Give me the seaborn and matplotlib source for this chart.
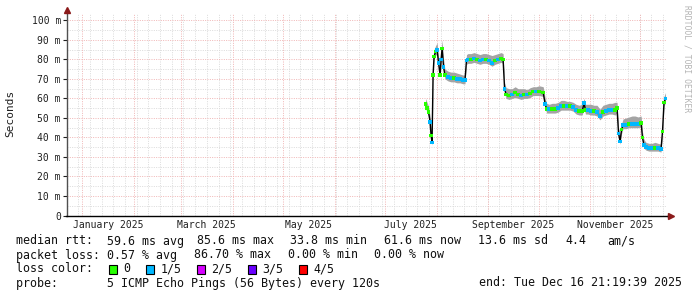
import numpy as np
import pandas as pd
import matplotlib
matplotlib.use("Agg")
import matplotlib.pyplot as plt
from matplotlib.patches import Rectangle
import seaborn as sns

# ---------------- data ----------------
day_offset = [  # days after 2025-01-01
    205.4, 206.3, 207.2, 208.1, 208.7, 209.3, 209.9, 210.5, 211.4, 212.3,
    213.2, 214.1, 214.7, 215.3, 216.2, 217.0, 218.8, 220.6, 222.4, 224.2,
    226.0, 227.8, 229.0, 229.9, 230.8, 232.6, 234.4, 236.2, 238.0, 239.8,
    241.6, 243.4, 245.2, 247.0, 248.8, 250.6, 251.8, 252.7, 253.6, 255.4,
    257.2, 259.0, 260.8, 262.6, 264.4, 266.2, 268.0, 269.8, 271.6, 273.4,
    275.8, 277.0, 277.9, 279.4, 281.2, 283.0, 284.8, 286.5, 288.3, 290.1,
    291.9, 293.7, 295.5, 297.3, 299.1, 300.3, 301.1, 302.6, 304.4, 306.2,
    308.0, 309.8, 311.6, 313.4, 315.2, 317.0, 318.8, 320.0, 320.9, 321.8,
    322.7, 323.6, 325.4, 327.2, 329.0, 330.8, 332.6, 334.4, 335.2, 336.1,
    337.3, 339.1, 340.9, 342.7, 344.5, 346.3, 347.2, 348.1, 349.0,
]
median_ms = [
    57, 55, 53, 48, 41, 37.5, 72, 81.5, 84, 85,
    78, 72, 80, 85.6, 76, 72, 71, 70.5, 70.5, 70,
    70, 69.5, 69.5, 79.5, 80, 80, 80.5, 80, 79.5, 80,
    80, 79.5, 78, 79.5, 80, 80.5, 80, 65, 62, 61.5,
    62, 63, 62, 61.5, 62, 62, 62.5, 63.5, 63.5, 63.5,
    63, 57, 54.5, 54.5, 54.5, 54.5, 55, 56, 56, 56,
    56, 55.5, 54, 53.5, 53.5, 57.5, 54, 54, 53.5, 53.5,
    53, 51, 53, 53.5, 54, 54, 54, 55, 42, 38,
    44, 46.5, 46.5, 47, 47, 47, 47, 47.5, 40, 36,
    35, 34.5, 34.5, 34.5, 34.5, 34, 43, 58, 60,
]
smoke_lo_ms = [
    55, 53, 51, 46, 39, 36, 69, 80, 82, 83,
    76, 71, 78, 84, 74, 70, 69, 68.5, 68.5, 68,
    68, 67.5, 67.5, 77.5, 78, 78, 78.5, 78, 77.5, 78,
    78, 77.5, 76.5, 77.5, 78, 78.5, 78, 63, 60, 59.5,
    60, 60.5, 60, 59.5, 60, 60, 60.5, 61.5, 61.5, 61.5,
    61, 55, 52.5, 52.5, 52.5, 52.5, 53, 54, 54, 54,
    54, 53.5, 52, 51.5, 51.5, 55, 52, 52, 51.5, 51.5,
    51, 49, 51, 51.5, 52, 52, 51.5, 52.5, 40, 36.5,
    42, 44.5, 44.5, 45, 45, 45, 45, 45.5, 38, 34.5,
    33.5, 33, 33, 33, 33, 32.5, 41, 56, 58,
]
smoke_hi_ms = [
    60, 58, 56, 51, 45, 41, 78, 85, 87, 88.5,
    81, 75, 84, 90, 80, 75, 74, 73.5, 73.5, 73,
    72.5, 72, 72, 82.5, 83, 83, 83.5, 83, 82.5, 83,
    83, 82.5, 82, 82.5, 83, 83.5, 83, 68, 65.5, 65,
    65, 66, 65, 65, 65, 64.5, 65.5, 66, 66, 66.5,
    66, 60, 57.5, 57, 57.5, 57.5, 58, 59, 59, 58.5,
    58.5, 58, 57, 56.5, 57, 60, 57, 57, 57, 56.5,
    56.5, 54.5, 56.5, 57, 57.5, 57.5, 58, 58, 45, 41.5,
    47, 49.5, 50, 50.5, 51, 51, 50.5, 51, 43, 39,
    37.5, 37, 37, 37.5, 37, 36.5, 46, 61, 63,
]
loss_bucket = [  # 0 = no loss, 1 = 1/5 lost
    0, 0, 0, 1, 0, 1, 0, 0, 0, 1,
    1, 0, 1, 0, 1, 0, 1, 1, 0, 1,
    1, 1, 1, 1, 1, 0, 1, 0, 1, 1,
    0, 1, 1, 0, 1, 0, 0, 1, 0, 0,
    1, 0, 0, 1, 0, 1, 0, 0, 1, 0,
    0, 1, 0, 1, 0, 0, 1, 1, 0, 1,
    0, 1, 1, 0, 0, 1, 0, 1, 1, 0,
    1, 1, 0, 1, 1, 1, 0, 0, 1, 1,
    0, 1, 1, 0, 1, 1, 1, 0, 0, 1,
    1, 1, 1, 0, 1, 1, 0, 0, 1,
]
loss_labels = ["0", "1/5", "2/5", "3/5", "4/5"]
loss_colors = ["#26ff00", "#00b8ff", "#d600ff", "#6a00ff", "#ff0000"]
y_ticks = [0, 10, 20, 30, 40, 50, 60, 70, 80, 90, 100]
x_label_months = ["2025-01-01", "2025-03-01", "2025-05-01",
                  "2025-07-01", "2025-09-01", "2025-11-01"]

rtt_items = ["median rtt:", "59.6 ms avg", "85.6 ms max", "33.8 ms min",
             "61.6 ms now", "13.6 ms sd", "4.4", "am/s"]
loss_items = ["packet loss:", "0.57 % avg", "86.70 % max", "0.00 % min", "0.00 % now"]
probe_text = "probe:       5 ICMP Echo Pings (56 Bytes) every 120s"
end_text = "end: Tue Dec 16 21:19:39 2025"

# ---------------- figure ----------------
sns.set_theme(style="white")
plt.rcParams["font.family"] = ["DejaVu Sans Mono", "DejaVu Sans"]

W, H = 697, 297
fig = plt.figure(figsize=(W / 100, H / 100), dpi=100)
fig.patch.set_facecolor("white")
x0, x1, yb, yt = 66.5, 667.0, 215.5, 13.0
ax = fig.add_axes([x0 / W, (H - yb) / H, (x1 - x0) / W, (yb - yt) / H])
ax.set_facecolor("white")

base = pd.Timestamp("2025-01-01")
t_end = pd.Timestamp("2025-12-16 21:19:39")
t_start = base - pd.Timedelta(days=9.46)

df = pd.DataFrame({
    "time": base + pd.to_timedelta(day_offset, unit="D"),
    "median": median_ms,
    "lo": smoke_lo_ms,
    "hi": smoke_hi_ms,
    "loss": [loss_labels[i] for i in loss_bucket],
})

ax.set_xlim(t_start, t_end)
ax.set_ylim(0, 103.8)

# grid (rrdtool style, drawn by hand)
dot = (0, (1, 1.4))
for t in pd.date_range(t_start, t_end, freq="W-SUN"):
    ax.axvline(t, color="#dadada", lw=0.7, ls=dot, zorder=0)
for v in np.arange(5, 104, 10):
    ax.axhline(v, color="#dadada", lw=0.7, ls=dot, zorder=0)
for t in pd.date_range(base, t_end, freq="MS"):
    ax.axvline(t, color="#f0b4b4", lw=0.7, ls=dot, zorder=0.5)
for v in y_ticks[1:]:
    ax.axhline(v, color="#f0b4b4", lw=0.7, ls=dot, zorder=0.5)

# smoke
ax.fill_between(df["time"], df["lo"], df["hi"], color="#a4a4a4", lw=0, zorder=1)
# median
sns.lineplot(data=df, x="time", y="median", ax=ax, color="black", lw=1.0,
             zorder=2, estimator=None)
sns.scatterplot(data=df, x="time", y="median", hue="loss", ax=ax,
                palette=dict(zip(loss_labels, loss_colors)), marker="s", s=7,
                linewidth=0, legend=False, zorder=3)

# ticks
mids = []
for m in x_label_months:
    s = pd.Timestamp(m)
    e = s + pd.offsets.MonthBegin(1)
    mids.append(s + (e - s) / 2)
ax.set_xticks(mids)
ax.set_xticklabels([pd.Timestamp(m).strftime("%B %Y") for m in x_label_months])
ax.set_yticks(y_ticks)
ax.set_yticklabels(["0" if v == 0 else f"{v} m" for v in y_ticks])
ax.tick_params(axis="x", length=0, pad=3, labelsize=7, colors="#202020")
ax.tick_params(axis="y", length=3, width=0.8, pad=1, labelsize=7,
               colors="#202020", left=True)
ax.set_xlabel("")
ax.set_ylabel("")

for s in ["top", "right"]:
    ax.spines[s].set_visible(False)
ax.spines["left"].set_color("#505050")
ax.spines["left"].set_linewidth(1.0)
ax.spines["bottom"].set_color("black")
ax.spines["bottom"].set_linewidth(1.0)

# axis arrows
fig.add_artist(plt.Line2D([x0 / W, x0 / W], [(H - yt) / H, (H - 9) / H],
                          color="#505050", lw=1.0))
fig.add_artist(plt.Line2D([x1 / W, 670 / W], [(H - yb) / H, (H - yb) / H],
                          color="black", lw=1.0))
fig.add_artist(plt.Line2D([x0 / W], [(H - 9.5) / H], marker="^", ms=4.5,
                          color="#8b1a1a", lw=0))
fig.add_artist(plt.Line2D([671 / W], [(H - yb) / H], marker=">", ms=4.5,
                          color="#8b1a1a", lw=0))

# labels
fig.text(10 / W, 1 - 113 / H, "Seconds", rotation=90, ha="center", va="center",
         fontsize=8, color="#202020")
fig.text(687 / W, 1 - 5 / H, "RRDTOOL / TOBI OETIKER", rotation=270,
         ha="center", va="top", fontsize=5.8, color="#b4b4b4")

fs = 8.4
tc = "#101010"
rtt_x = [16, 107, 197, 290, 384, 478, 565, 607]
for xp, s in zip(rtt_x, rtt_items):
    fig.text(xp / W, 1 - 241 / H, s, ha="left", va="center", fontsize=fs, color=tc)
loss_x = [16, 107, 194, 288, 374]
for xp, s in zip(loss_x, loss_items):
    fig.text(xp / W, 1 - 255 / H, s, ha="left", va="center", fontsize=fs, color=tc)
fig.text(16 / W, 1 - 269 / H, "loss color:", ha="left", va="center", fontsize=fs, color=tc)
box_x = [109, 146, 197, 248, 299]
for bx, lab, col in zip(box_x, loss_labels, loss_colors):
    fig.add_artist(Rectangle((bx / W, 1 - 273.5 / H), 8 / W, 9 / H,
                             facecolor=col, edgecolor="black", lw=0.8,
                             transform=fig.transFigure))
    fig.text((bx + 14.5) / W, 1 - 269 / H, lab, ha="left", va="center",
             fontsize=fs, color=tc)
fig.text(16 / W, 1 - 283 / H, probe_text, ha="left", va="center", fontsize=fs, color=tc)
fig.text(682 / W, 1 - 283 / H, end_text, ha="right", va="center", fontsize=fs, color=tc)

fig.savefig("out.png", dpi=100, facecolor="white")
